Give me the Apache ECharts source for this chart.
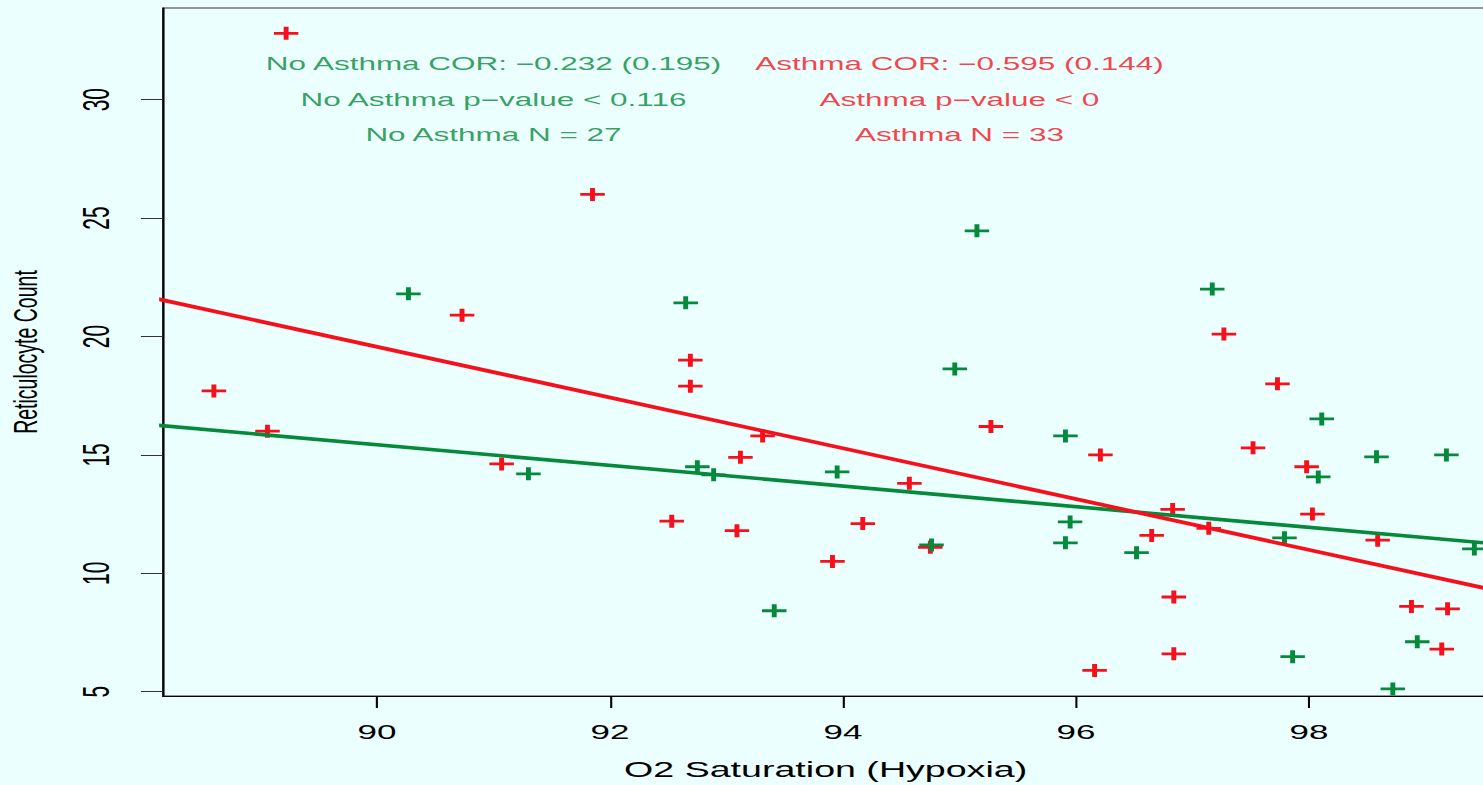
<!DOCTYPE html>
<html>
<head>
<meta charset="utf-8">
<script src="https://cdn.jsdelivr.net/npm/echarts@6.0.0/dist/echarts.min.js"></script>
<style>
html, body { margin: 0; padding: 0; background: #ebfffe; overflow: hidden; }
/* the original plot is stretched sideways, so draw narrow and stretch it */
#main { width: 848px; height: 785px; transform: scaleX(1.7488); transform-origin: 0 0; }
</style>
</head>
<body>
<div id="main"></div>
<script>
var RED = '#f7101c';
var GREEN = '#05893a';

// Asthma (red)
var asthmaX = [89.22, 91.85, 90.73, 88.60, 89.06, 91.07, 92.69, 92.69, 93.31, 93.12, 92.53,
               93.09, 93.91, 94.17, 94.57, 94.75, 95.27, 96.21, 96.16, 96.83, 96.65, 97.14,
               96.84, 96.84, 97.52, 97.98, 98.03, 98.59, 98.88, 99.19, 99.14, 97.73, 97.27];
var asthmaY = [32.8, 26.0, 20.9, 17.7, 16.0, 14.62, 19.0, 17.9, 15.8, 14.9, 12.2,
               11.8, 10.5, 12.1, 13.8, 11.1, 16.2, 15.0, 5.9, 12.7, 11.6, 11.9,
               9.0, 6.6, 15.3, 14.5, 12.5, 11.4, 8.6, 8.5, 6.8, 18.0, 20.1];

// No Asthma (green)
var noAsthmaX = [90.27, 91.30, 92.65, 92.75, 92.89, 93.41, 93.95, 94.96, 95.15, 94.76, 95.91, 95.95,
                 95.91, 96.52, 97.17, 97.79, 97.86, 98.11, 98.08, 98.58, 99.18, 98.93, 98.72, 99.42];
var noAsthmaY = [21.8, 14.2, 21.42, 14.5, 14.16, 8.42, 14.28, 18.63, 24.46, 11.2, 15.8, 12.17,
                 11.29, 10.87, 22.0, 11.5, 6.48, 16.52, 14.07, 14.92, 15.0, 7.11, 5.12, 11.03];

// fitted lines, end points
var fitX = [88, 100];
var asthmaFit = [21.71, 8.85];
var noAsthmaFit = [16.30, 11.07];

var xTicks = [90, 92, 94, 96, 98];
var yTicks = [5, 10, 15, 20, 25, 30];

// text notes inside the plot
var noteRowsY = [31.5, 30.0, 28.5];
var noAsthmaNoteX = 91;
var asthmaNoteX = 95;
var noAsthmaNotes = ['No Asthma COR: \u22120.232 (0.195)', 'No Asthma p\u2212value < 0.116', 'No Asthma N = 27'];
var asthmaNotes = ['Asthma COR: \u22120.595 (0.144)', 'Asthma p\u2212value < 0', 'Asthma N = 33'];

function pairs(xs, ys) {
    return xs.map(function (x, i) { return [x, ys[i]]; });
}
function notes(x, texts) {
    return texts.map(function (t, i) { return [x, noteRowsY[i], t]; });
}

var plusPath = 'path://M0,5.5H5.6V0H8.4V5.5H14V8.5H8.4V14H5.6V8.5H0Z';
var font = 'Liberation Sans';

var chart = echarts.init(document.getElementById('main'), null, { renderer: 'svg' });

var option = {
    backgroundColor: '#ebfffe',
    animation: false,
    grid: {
        left: 93.2, top: 8, right: -3, bottom: 89,
        show: true, borderColor: '#333', borderWidth: 1,
        outerBoundsMode: 'none'
    },
    xAxis: {
        type: 'value', min: 88.163, max: 99.539,
        splitLine: { show: false },
        axisLine: { show: true, onZero: false, lineStyle: { color: '#000', width: 1.2 } },
        axisTick: { show: true, length: 12, customValues: xTicks, lineStyle: { color: '#000', width: 1.2 } },
        axisLabel: { customValues: xTicks, color: '#000', fontSize: 20, fontFamily: font, margin: 26 },
        name: 'O2 Saturation (Hypoxia)',
        nameLocation: 'middle', nameGap: 62,
        nameTextStyle: { color: '#000', fontSize: 21.5, fontFamily: font }
    },
    yAxis: {
        type: 'value', min: 4.82, max: 33.87,
        splitLine: { show: false },
        axisLine: { show: true, onZero: false, lineStyle: { color: '#000', width: 1.2 } },
        axisTick: { show: true, length: 12.6, customValues: yTicks, lineStyle: { color: '#333' } },
        axisLabel: { customValues: yTicks, rotate: 90, color: '#000', fontSize: 21, fontFamily: font, margin: 28 },
        name: 'Reticulocyte Count',
        nameLocation: 'middle', nameGap: 69,
        nameTextStyle: { color: '#000', fontSize: 19.5, fontFamily: font }
    },
    series: [
        {
            name: 'Asthma', type: 'scatter',
            symbol: plusPath, symbolSize: [14, 13],
            itemStyle: { color: RED, opacity: 1 },
            data: pairs(asthmaX, asthmaY), z: 2
        },
        {
            name: 'No Asthma', type: 'scatter',
            symbol: plusPath, symbolSize: [14, 13],
            itemStyle: { color: GREEN, opacity: 1 },
            data: pairs(noAsthmaX, noAsthmaY), z: 3
        },
        {
            name: 'No Asthma fit', type: 'line', clip: true,
            symbol: 'none', lineStyle: { color: GREEN, width: 3.6 },
            data: pairs(fitX, noAsthmaFit), z: 4
        },
        {
            name: 'Asthma fit', type: 'line', clip: true,
            symbol: 'none', lineStyle: { color: RED, width: 3.6 },
            data: pairs(fitX, asthmaFit), z: 5
        },
        {
            name: 'notes green', type: 'scatter', symbolSize: 0, silent: true,
            label: {
                show: true, position: 'inside', color: GREEN, fontSize: 18, fontFamily: font,
                formatter: function (p) { return p.value[2]; }
            },
            data: notes(noAsthmaNoteX, noAsthmaNotes)
        },
        {
            name: 'notes red', type: 'scatter', symbolSize: 0, silent: true,
            label: {
                show: true, position: 'inside', color: RED, fontSize: 18, fontFamily: font,
                formatter: function (p) { return p.value[2]; }
            },
            data: notes(asthmaNoteX, asthmaNotes)
        }
    ]
};

chart.setOption(option);
</script>
</body>
</html>
